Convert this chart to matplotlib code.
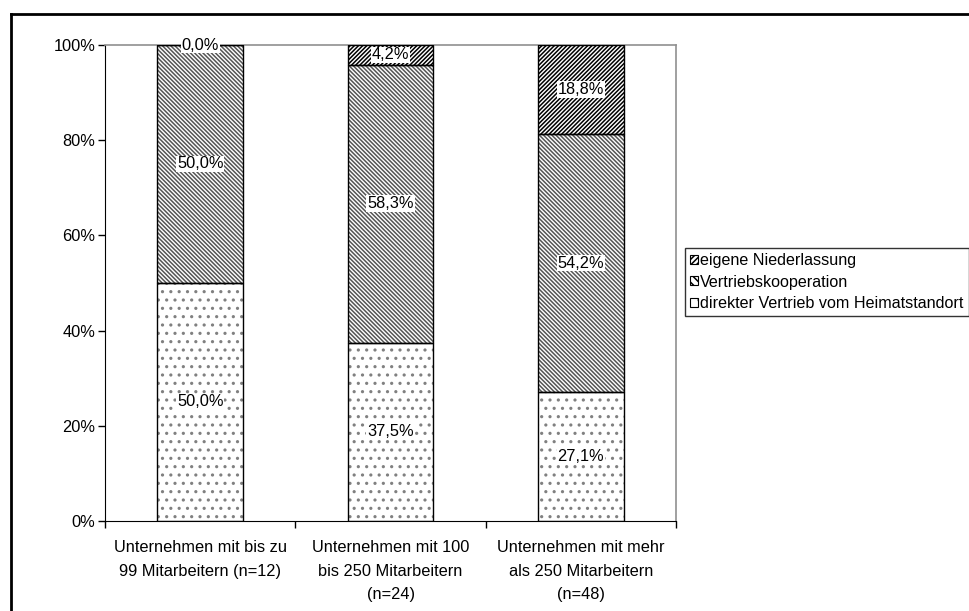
"""
Stacked percentage bars: Vertriebsweg nach Unternehmensgröße.
"""
import matplotlib
import matplotlib.pyplot as plt
from matplotlib.lines import Line2D

matplotlib.use('agg')

categories = ['Unternehmen mit bis zu\n99 Mitarbeitern (n=12)',
              'Unternehmen mit 100\nbis 250 Mitarbeitern\n(n=24)',
              'Unternehmen mit mehr\nals 250 Mitarbeitern\n(n=48)']
series_names = ['direkter Vertrieb vom Heimatstandort',
                'Vertriebskooperation',
                'eigene Niederlassung']
direkt = [50.0, 37.5, 27.1]
kooperation = [50.0, 58.3, 54.2]
niederlassung = [0.0, 4.2, 18.8]
y_ticks = [0, 20, 40, 60, 80, 100]

plt.rcParams['font.family'] = ['Liberation Sans', 'DejaVu Sans']
plt.rcParams['hatch.linewidth'] = 1.1

fig = plt.figure(figsize=(9.69, 6.11), dpi=100)
ax = fig.add_axes([105 / 969, 1 - 521 / 611, 571 / 969, 476 / 611])

x = list(range(len(categories)))
width = 0.45
series = [direkt, kooperation, niederlassung]
hatches = ['..', '\\' * 8, '/' * 8]
hatch_colors = ['#808080', '#555555', '#000000']
legend_hatches = ['.', '\\' * 4, '/' * 6]

bottom = [0.0] * len(x)
handles = []
for values, name, hatch, hcol, lh in zip(series, series_names, hatches,
                                         hatch_colors, legend_hatches):
    vals = [v / 100 for v in values]
    ax.bar(x, vals, width, bottom=bottom, color='white', edgecolor=hcol,
           hatch=hatch, linewidth=0, zorder=2)
    outline = ax.bar(x, vals, width, bottom=bottom, fill=False,
                     edgecolor='black', linewidth=1.0, zorder=3)
    labels = [f'{v:.1f}%'.replace('.', ',') for v in values]
    for rect, lab in zip(outline, labels):
        cy = rect.get_y() + rect.get_height() / 2
        ax.text(rect.get_x() + rect.get_width() / 2, cy, lab,
                ha='center', va='center', fontsize=11.8, zorder=4,
                bbox=dict(facecolor='white', edgecolor='none', pad=0.6))
    handles.append(plt.Rectangle((0, 0), 1, 1, facecolor='white',
                                 edgecolor='black', hatch=lh, linewidth=0.8))
    bottom = [b + v for b, v in zip(bottom, vals)]

ax.set_xlim(-0.5, 2.5)
ax.set_ylim(0, 1)
ax.set_yticks([t / 100 for t in y_ticks])
ax.set_yticklabels([f'{t}%' for t in y_ticks], fontsize=11.8)
ax.set_xticks(x)
ax.set_xticklabels(categories, fontsize=11.8, linespacing=1.7)
ax.set_xticks([-0.5, 0.5, 1.5, 2.5], minor=True)
ax.tick_params(axis='x', which='major', length=0, pad=14)
ax.tick_params(axis='x', which='minor', length=5, width=1)
ax.tick_params(axis='y', length=5, width=1, pad=2)
for side in ('top', 'right'):
    ax.spines[side].set_color('#909090')
    ax.spines[side].set_linewidth(1.2)
for side in ('left', 'bottom'):
    ax.spines[side].set_color('black')

leg = fig.legend(handles[::-1], series_names[::-1], loc='upper left',
                 bbox_to_anchor=(685 / 969, 1 - 248 / 611),
                 fontsize=11.6, frameon=True, fancybox=False,
                 handlelength=0.5, handleheight=0.5, handletextpad=0.15,
                 labelspacing=0.42, borderpad=0.3, borderaxespad=0)
leg.get_frame().set_edgecolor('black')
leg.get_frame().set_linewidth(1.0)

# outer chart border (runs off the right and bottom edges)
fig.add_artist(Line2D([11 / 969, 1.01], [1 - 14 / 611] * 2,
                      color='black', linewidth=2, transform=fig.transFigure))
fig.add_artist(Line2D([11 / 969] * 2, [-0.01, 1 - 14 / 611],
                      color='black', linewidth=2, transform=fig.transFigure))

fig.savefig('out.png', dpi=100)
